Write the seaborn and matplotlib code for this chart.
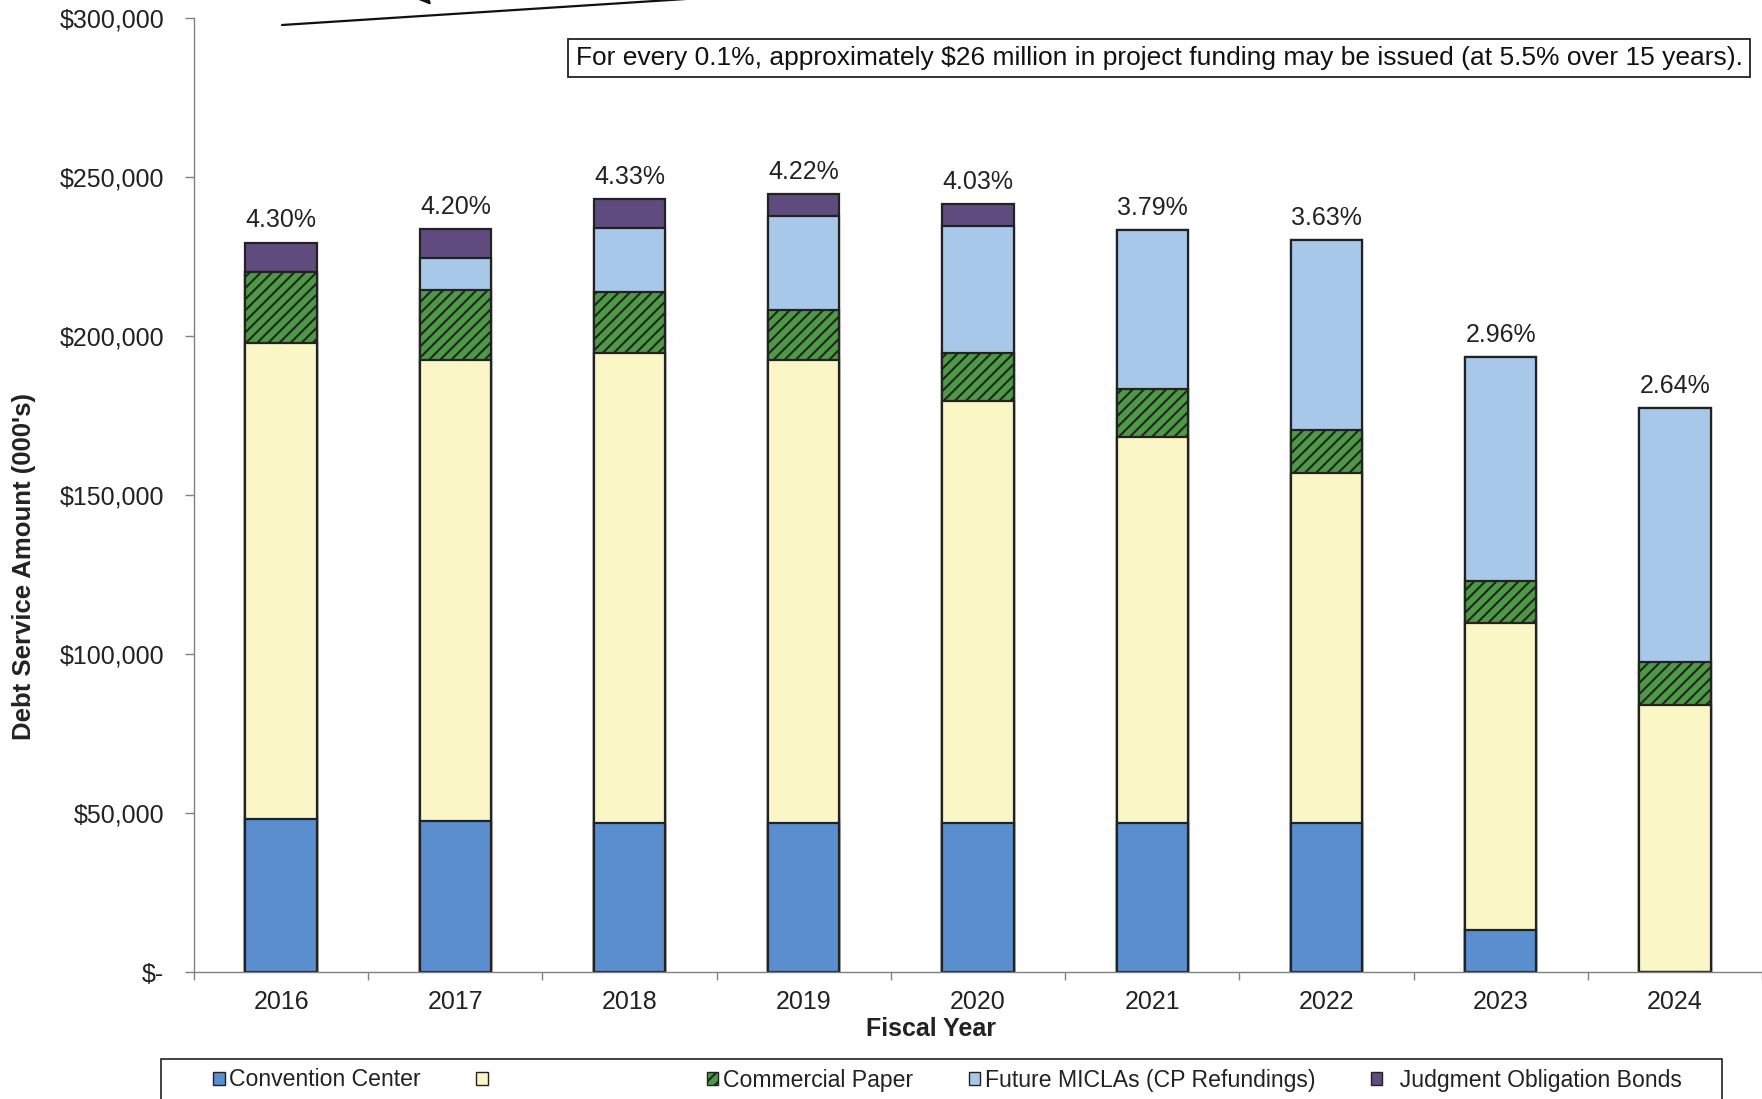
import numpy as np
import pandas as pd
import matplotlib
matplotlib.use("Agg")
import matplotlib.pyplot as plt
import seaborn as sns
from matplotlib.patches import Patch, Rectangle, FancyArrowPatch
from matplotlib.lines import Line2D
from matplotlib.ticker import FuncFormatter, FixedLocator

# ---- data (debt service, $000's) ----
years = ["2016", "2017", "2018", "2019", "2020", "2021", "2022", "2023", "2024"]
convention_center = [48000, 47400, 47000, 47000, 47000, 47000, 47000, 13100, 0]
unlabeled_series = [149900, 145200, 147700, 145600, 132500, 121200, 109900, 96800, 84100]
commercial_paper = [22300, 21900, 19100, 15550, 15200, 15200, 13400, 13100, 13400]
future_miclas = [0, 9900, 20150, 29650, 39950, 49850, 59750, 70300, 79900]
judgment_bonds = [9200, 9200, 9150, 6750, 6750, 0, 0, 0, 0]
ratio_labels = ["4.30%", "4.20%", "4.33%", "4.22%", "4.03%", "3.79%", "3.63%", "2.96%", "2.64%"]
series_names = ["Convention Center", "", "Commercial Paper",
                "Future MICLAs (CP Refundings)", "Judgment Obligation Bonds"]
note_text = ("For every 0.1%, approximately $26 million in project funding "
             "may be issued (at 5.5% over 15 years).")

# ---- style ----
sns.set_theme(style="white")
plt.rcParams["font.family"] = ["Liberation Sans", "DejaVu Sans"]
plt.rcParams["hatch.linewidth"] = 1.5

W, H = 1762, 1099
fig = plt.figure(figsize=(W / 100, H / 100), dpi=100)
ax = fig.add_axes([194 / W, 1 - 972 / H, (W - 194) / W, (972 - 18) / H])

colors = {
    "cc": "#5A8ECE",
    "yellow": "#FAF6C6",
    "cp": "#4C9A45",
    "miclas": "#A8C8E9",
    "job": "#5F4B7E",
}
edge = "#222222"

df = pd.DataFrame({
    "year": years,
    "cc": convention_center,
    "yellow": unlabeled_series,
    "cp": commercial_paper,
    "miclas": future_miclas,
    "job": judgment_bonds,
})
stack_order = ["cc", "yellow", "cp", "miclas", "job"]
cum = df[stack_order].cumsum(axis=1)

# draw cumulative totals from the tallest layer down so each segment shows
for key in reversed(stack_order):
    kw = dict(hatch="///") if key == "cp" else {}
    sns.barplot(x=df["year"], y=cum[key], color=colors[key], saturation=1,
                width=0.41, edgecolor=edge, linewidth=1.6, errorbar=None,
                ax=ax, **kw)

# ratio labels above each stack
totals = cum["job"].values
for i, (t, lab) in enumerate(zip(totals, ratio_labels)):
    ax.annotate(lab, (i, t), xytext=(0, 16), textcoords="offset points",
                ha="center", va="center", fontsize=18, color="#222222")

# ---- axes ----
ax.set_xlim(-0.5, 8.5)
ax.set_ylim(0, 300000)
for s in ["top", "right"]:
    ax.spines[s].set_visible(False)
for s in ["left", "bottom"]:
    ax.spines[s].set_color("#808080")
    ax.spines[s].set_linewidth(1.0)

ax.yaxis.set_major_locator(FixedLocator(np.arange(0, 300001, 50000)))
ax.yaxis.set_major_formatter(FuncFormatter(lambda v, p: "$-" if v == 0 else f"${v:,.0f}"))
ax.tick_params(axis="y", direction="out", length=6.5, width=1, color="#808080",
               labelsize=18, pad=15, labelcolor="#222222", left=True)

ax.set_xticks(range(len(years)))
ax.set_xticklabels(years)
ax.set_xticks(np.arange(-0.5, len(years), 1.0), minor=True)
ax.tick_params(axis="x", which="major", length=0, labelsize=18, pad=13,
               labelcolor="#222222")
ax.tick_params(axis="x", which="minor", direction="out", length=5.8, width=1,
               color="#808080", bottom=True)

ax.set_xlabel("Fiscal Year", fontsize=18, fontweight="bold", color="#222222")
ax.xaxis.set_label_coords(0.470, -(1029 - 972) / 954)
ax.xaxis.label.set_va("center")
ax.set_ylabel("Debt Service Amount (000's)", fontsize=18.5, fontweight="bold",
              color="#222222")
ax.yaxis.set_label_coords(-(194 - 24) / 1568, 1 - (567 - 18) / 954)
ax.yaxis.label.set_va("center")
ax.yaxis.label.set_ha("center")

# ---- note box ----
fig.text(1159 / W, 1 - 58 / H, note_text, ha="center", va="center",
         fontsize=19, color="#111111",
         bbox=dict(boxstyle="square,pad=0.28", facecolor="white",
                   edgecolor=edge, linewidth=1.3))

# ---- leader line and arrow at the top ----
fig.add_artist(Line2D([282 / W, 900 / W], [1 - 25 / H, 1 + 14.8 / H],
                      transform=fig.transFigure, color="#111111", lw=1.6))
fig.add_artist(FancyArrowPatch(posA=(400 / W, 1 + 30 / H), posB=(433 / W, 1 - 7 / H),
                               transform=fig.transFigure,
                               arrowstyle="-|>,head_length=1.0,head_width=0.5",
                               mutation_scale=22, color="#111111", lw=1.5))

# ---- legend ----
fig.add_artist(Rectangle((161 / W, 1 - 1110 / H), (1722 - 161) / W, (1110 - 1059) / H,
                         transform=fig.transFigure, facecolor="white",
                         edgecolor=edge, linewidth=1.2))
handles = [
    Patch(facecolor=colors["cc"], edgecolor=edge, linewidth=1.0),
    Patch(facecolor=colors["yellow"], edgecolor=edge, linewidth=1.0),
    Patch(facecolor=colors["cp"], edgecolor=edge, linewidth=1.0, hatch="///"),
    Patch(facecolor=colors["miclas"], edgecolor=edge, linewidth=1.0),
    Patch(facecolor=colors["job"], edgecolor=edge, linewidth=1.0),
]
labels = [series_names[0], " " * 25, series_names[2], series_names[3],
          "  " + series_names[4]]
fig.legend(handles, labels, loc="center left",
           bbox_to_anchor=(213 / W, 1 - 1080 / H), ncol=5, frameon=False,
           fontsize=16.6, handlelength=0.5, handleheight=0.5, handletextpad=0.2,
           columnspacing=2.4, borderpad=0, borderaxespad=0, labelcolor="#222222")

fig.savefig("out.png", dpi=100)
